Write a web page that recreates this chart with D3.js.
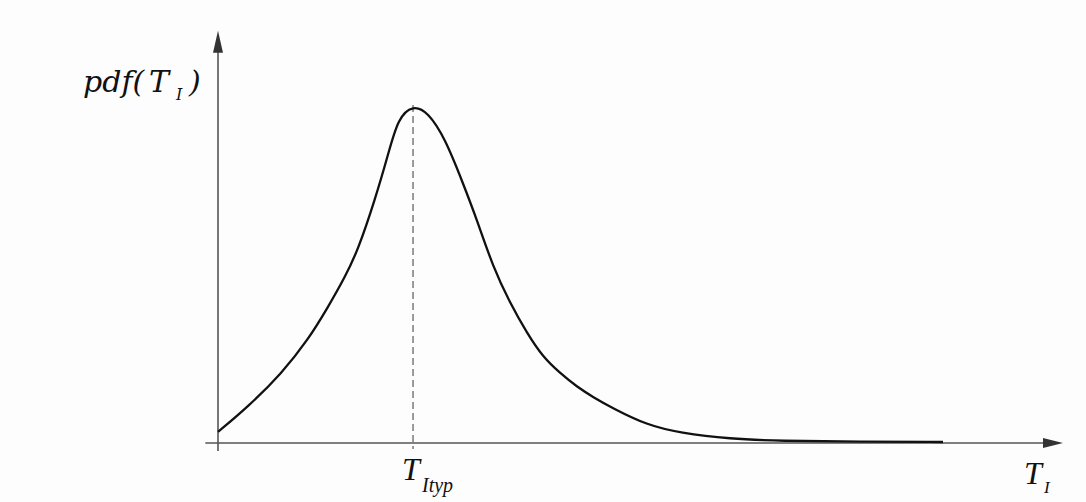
<!DOCTYPE html>
<html>
<head>
<meta charset="utf-8">
<script src="https://cdn.jsdelivr.net/npm/d3@7"></script>
<style>
  body { margin: 0; background: #fdfdfd; }
  svg text { font-family: "Liberation Serif", "DejaVu Serif", serif; font-style: italic; fill: #111; }
</style>
</head>
<body>
<div id="chart"></div>
<script>
// curve (T in arbitrary units, pdf normalised to the peak)
var tValues   = [0, 0.355, 0.757, 1.065, 1.302, 1.503, 1.657, 1.858, 2.012, 2.130, 2.308, 2.485, 2.686, 2.899, 3.065, 3.254, 3.456, 3.657, 3.846, 4.047, 4.249, 4.438, 4.663, 5.077, 5.467, 6.059, 6.651, 7.6, 8.58];
var pdfValues = [0.033, 0.107, 0.207, 0.305, 0.402, 0.491, 0.571, 0.72, 0.852, 0.962, 1.0, 0.979, 0.902, 0.769, 0.660, 0.521, 0.414, 0.325, 0.254, 0.207, 0.166, 0.136, 0.104, 0.053, 0.030, 0.012, 0.006, 0.004, 0.003];
var tTyp = 2.308;

var width = 1086, height = 502;

var svg = d3.select("#chart")
    .append("svg")
    .attr("width", width)
    .attr("height", height);

var x = d3.scaleLinear().domain([0, 10]).range([218, 1063]);
var y = d3.scaleLinear().domain([0, 1]).range([443, 105]);

var axisColor = "#555";

// axes as arrows
svg.append("line")
    .attr("x1", x(-0.15)).attr("x2", x(10) - 16)
    .attr("y1", y(0)).attr("y2", y(0))
    .style("stroke", axisColor).style("stroke-width", 1.6);
svg.append("path")
    .attr("d", `M${x(10)},${y(0)} L${x(10) - 20},${y(0) - 5} L${x(10) - 20},${y(0) + 5} Z`)
    .style("fill", "#333");

svg.append("line")
    .attr("x1", x(0)).attr("x2", x(0))
    .attr("y1", y(0) + 8).attr("y2", y(1.22) + 18)
    .style("stroke", axisColor).style("stroke-width", 1.6);
svg.append("path")
    .attr("d", `M${x(0)},${y(1.22)} L${x(0) - 5},${y(1.22) + 22} L${x(0) + 5},${y(1.22) + 22} Z`)
    .style("fill", "#333");

// dashed marker at the typical value
svg.append("line")
    .attr("x1", x(tTyp)).attr("x2", x(tTyp))
    .attr("y1", y(1)).attr("y2", y(0) + 6)
    .style("stroke", "#666").style("stroke-width", 1.3)
    .style("stroke-dasharray", "7,4");

var line = d3.line()
    .x(function (d, i) { return x(tValues[i]); })
    .y(function (d) { return y(d); })
    .curve(d3.curveBasis);

svg.append("path")
    .datum(pdfValues)
    .attr("d", line)
    .style("fill", "none")
    .style("stroke", "#111")
    .style("stroke-width", 2.3);

// labels
var yl = svg.append("text")
    .attr("y", 92)
    .style("font-family", "'DejaVu Serif', serif")
    .style("font-size", "30px");
yl.append("tspan").attr("x", 83).text("pdf(");
yl.append("tspan").attr("x", 149).text("T");
yl.append("tspan").attr("x", 176).attr("dy", 8).style("font-size", "16px").text("I");
yl.append("tspan").attr("x", 189).attr("dy", -8).text(")");

var tl = svg.append("text")
    .attr("y", 480)
    .style("font-size", "32px");
tl.append("tspan").attr("x", 402).text("T");
tl.append("tspan").attr("x", 422).attr("dy", 12).style("font-size", "20px").text("Ityp");

var xl = svg.append("text")
    .attr("y", 484)
    .style("font-size", "32px");
xl.append("tspan").attr("x", 1024).text("T");
xl.append("tspan").attr("x", 1044).attr("dy", 9).style("font-size", "17px").text("I");
</script>
</body>
</html>
